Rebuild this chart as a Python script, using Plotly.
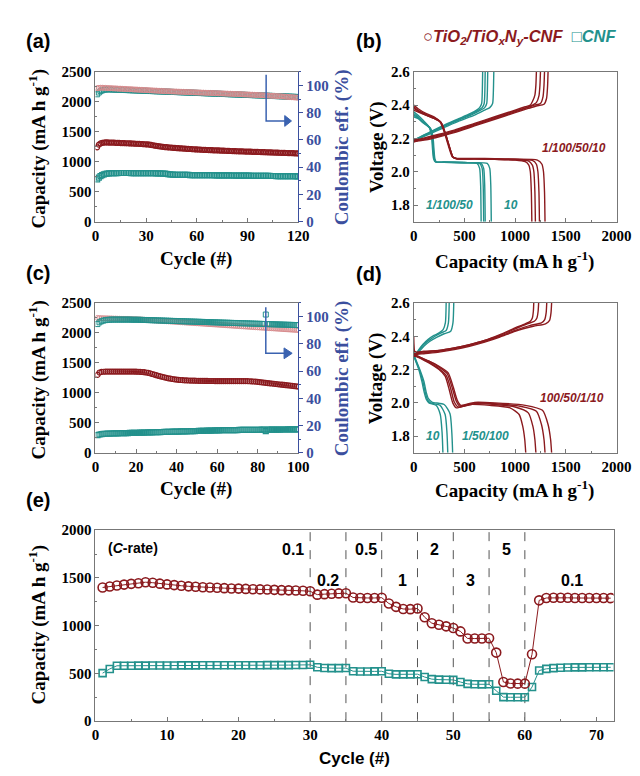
import plotly.graph_objects as go

W, H = 640, 776
RED = '#8b1a1e'
TEAL = '#23918c'
PINK = '#d88c8e'
BLUE = '#3b4f9e'
ARROW = '#3a62b0'
SERIF = 'Times New Roman, Liberation Serif, DejaVu Serif, serif'
SANS = 'Arial, Liberation Sans, sans-serif'

# ---------------- (a) long cycling, 120 cycles ----------------
a_cycles = list(range(1, 121))
a_tio2_cap = [1240, 1285, 1305, 1315, 1320, 1322, 1322, 1320, 1320, 1318,
              1318, 1316, 1315, 1314, 1312, 1312, 1310, 1308, 1308, 1306,
              1305, 1304, 1302, 1300, 1300, 1298, 1296, 1295, 1292, 1290,
              1288, 1285, 1280, 1275, 1270, 1265, 1260, 1256, 1252, 1248,
              1245, 1242, 1240, 1237, 1235, 1232, 1230, 1228, 1226, 1224,
              1222, 1220, 1218, 1216, 1214, 1212, 1210, 1208, 1206, 1205,
              1204, 1202, 1200, 1199, 1198, 1196, 1195, 1194, 1192, 1191,
              1190, 1189, 1188, 1186, 1185, 1184, 1183, 1182, 1180, 1179,
              1178, 1177, 1176, 1175, 1174, 1173, 1172, 1171, 1170, 1169,
              1168, 1167, 1166, 1165, 1164, 1163, 1162, 1161, 1160, 1159,
              1158, 1157, 1156, 1155, 1154, 1153, 1152, 1151, 1150, 1149,
              1148, 1147, 1146, 1145, 1144, 1143, 1142, 1141, 1140, 1138]
a_cnf_cap = [705, 735, 760, 778, 790, 798, 803, 806, 808, 810,
             810, 811, 811, 812, 812, 812, 812, 812, 812, 812,
             811, 811, 811, 810, 810, 810, 810, 810, 810, 809,
             809, 809, 808, 808, 808, 807, 806, 805, 804, 802,
             800, 797, 793, 790, 787, 785, 783, 782, 781, 780,
             780, 780, 779, 779, 779, 778, 778, 778, 777, 777,
             777, 776, 776, 776, 775, 775, 775, 774, 774, 774,
             773, 773, 773, 772, 772, 772, 771, 771, 771, 770,
             770, 770, 769, 769, 769, 768, 768, 768, 767, 767,
             767, 766, 766, 766, 765, 765, 765, 764, 764, 764,
             763, 763, 763, 762, 762, 762, 761, 761, 761, 760,
             760, 760, 759, 759, 759, 758, 758, 758, 757, 757]
a_tio2_ce = [98.0, 98.2, 98.3, 98.3, 98.2, 98.2, 98.1, 98.0, 98.0, 97.9,
             97.8, 97.8, 97.7, 97.6, 97.6, 97.5, 97.4, 97.4, 97.3, 97.2,
             97.2, 97.1, 97.0, 97.0, 96.9, 96.8, 96.8, 96.7, 96.6, 96.6,
             96.5, 96.4, 96.4, 96.3, 96.2, 96.2, 96.1, 96.0, 96.0, 95.9,
             95.8, 95.8, 95.7, 95.7, 95.6, 95.6, 95.5, 95.5, 95.4, 95.4,
             95.3, 95.3, 95.2, 95.2, 95.1, 95.1, 95.0, 95.0, 94.9, 94.9,
             94.8, 94.8, 94.7, 94.7, 94.6, 94.6, 94.5, 94.5, 94.4, 94.4,
             94.3, 94.3, 94.2, 94.2, 94.1, 94.1, 94.0, 94.0, 93.9, 93.9,
             93.8, 93.8, 93.7, 93.7, 93.6, 93.6, 93.5, 93.4, 93.4, 93.3,
             93.3, 93.2, 93.2, 93.1, 93.0, 93.0, 92.9, 92.8, 92.8, 92.7,
             92.6, 92.6, 92.5, 92.4, 92.4, 92.3, 92.2, 92.1, 92.1, 92.0,
             91.9, 91.8, 91.7, 91.6, 91.5, 91.4, 91.3, 91.2, 91.1, 91.0]
a_cnf_ce = [93.5, 94.8, 95.8, 96.4, 96.8, 97.0, 97.1, 97.1, 97.1, 97.0,
            97.0, 96.9, 96.9, 96.8, 96.8, 96.7, 96.7, 96.6, 96.6, 96.5,
            96.5, 96.4, 96.4, 96.3, 96.3, 96.2, 96.2, 96.1, 96.1, 96.0,
            96.0, 95.9, 95.9, 95.8, 95.8, 95.7, 95.7, 95.6, 95.6, 95.5,
            95.5, 95.4, 95.4, 95.3, 95.3, 95.2, 95.2, 95.1, 95.1, 95.0,
            95.0, 94.9, 94.9, 94.8, 94.8, 94.7, 94.7, 94.6, 94.6, 94.5,
            94.5, 94.4, 94.4, 94.3, 94.3, 94.2, 94.2, 94.1, 94.1, 94.0,
            94.0, 93.9, 93.9, 93.8, 93.8, 93.7, 93.7, 93.6, 93.6, 93.5,
            93.5, 93.4, 93.4, 93.3, 93.3, 93.2, 93.2, 93.1, 93.1, 93.0,
            93.0, 92.9, 92.9, 92.8, 92.8, 92.7, 92.7, 92.6, 92.6, 92.5,
            92.5, 92.4, 92.4, 92.3, 92.3, 92.2, 92.2, 92.1, 92.1, 92.0,
            92.0, 91.9, 91.9, 91.8, 91.8, 91.7, 91.7, 91.6, 91.6, 91.5]

# ---------------- (c) long cycling, 100 cycles ----------------
c_cycles = list(range(1, 101))
c_tio2_cap = [1300, 1340, 1350, 1352, 1354, 1355, 1355, 1356, 1356, 1356,
              1356, 1356, 1356, 1355, 1355, 1355, 1355, 1354, 1354, 1353,
              1352, 1350, 1348, 1345, 1340, 1333, 1325, 1315, 1305, 1295,
              1285, 1275, 1266, 1258, 1250, 1243, 1237, 1231, 1226, 1222,
              1218, 1215, 1212, 1210, 1208, 1206, 1205, 1204, 1203, 1202,
              1201, 1200, 1200, 1199, 1199, 1198, 1198, 1198, 1197, 1197,
              1197, 1197, 1197, 1197, 1197, 1197, 1197, 1197, 1197, 1197,
              1197, 1197, 1196, 1196, 1195, 1194, 1192, 1190, 1187, 1184,
              1180, 1176, 1172, 1168, 1164, 1160, 1156, 1152, 1148, 1144,
              1140, 1136, 1132, 1128, 1124, 1120, 1116, 1112, 1108, 1104]
c_cnf_cap = [295, 305, 312, 316, 318, 320, 321, 322, 323, 324,
             325, 326, 327, 328, 329, 330, 331, 332, 333, 334,
             335, 336, 337, 338, 339, 340, 341, 342, 343, 344,
             345, 346, 347, 348, 349, 350, 351, 352, 353, 354,
             355, 356, 357, 358, 359, 360, 361, 362, 363, 364,
             365, 366, 367, 368, 369, 370, 371, 372, 373, 374,
             375, 376, 377, 377, 378, 378, 379, 379, 380, 380,
             381, 381, 382, 382, 383, 383, 384, 384, 385, 385,
             385, 386, 386, 362, 386, 387, 387, 387, 388, 388,
             388, 389, 389, 389, 390, 390, 390, 391, 391, 391]
c_tio2_ce = [99.0, 98.9, 98.8, 98.8, 98.7, 98.7, 98.6, 98.6, 98.5, 98.5,
             98.4, 98.4, 98.3, 98.3, 98.2, 98.2, 98.1, 98.1, 98.0, 98.0,
             97.9, 97.9, 97.8, 97.7, 97.6, 97.5, 97.4, 97.3, 97.2, 97.1,
             97.0, 96.9, 96.8, 96.7, 96.6, 96.5, 96.4, 96.3, 96.2, 96.1,
             96.0, 95.9, 95.8, 95.7, 95.6, 95.5, 95.4, 95.3, 95.2, 95.1,
             95.0, 94.9, 94.8, 94.7, 94.6, 94.5, 94.4, 94.3, 94.2, 94.1,
             94.0, 93.9, 93.8, 93.7, 93.6, 93.5, 93.4, 93.3, 93.2, 93.1,
             93.0, 92.9, 92.8, 92.7, 92.6, 92.5, 92.4, 92.3, 92.2, 92.1,
             92.0, 91.9, 91.8, 91.7, 91.6, 91.5, 91.4, 91.3, 91.2, 91.1,
             91.0, 90.9, 90.8, 90.7, 90.6, 90.5, 90.4, 90.3, 90.2, 90.1]
c_cnf_ce = [94.5, 95.8, 96.6, 97.1, 97.4, 97.6, 97.7, 97.8, 97.8, 97.8,
            97.8, 97.8, 97.8, 97.8, 97.8, 97.8, 97.8, 97.7, 97.7, 97.7,
            97.7, 97.6, 97.6, 97.5, 97.5, 97.4, 97.4, 97.3, 97.3, 97.2,
            97.2, 97.1, 97.1, 97.0, 97.0, 96.9, 96.9, 96.8, 96.8, 96.7,
            96.7, 96.6, 96.6, 96.5, 96.5, 96.4, 96.4, 96.3, 96.3, 96.2,
            96.2, 96.1, 96.1, 96.0, 96.0, 95.9, 95.9, 95.8, 95.8, 95.7,
            95.7, 95.6, 95.6, 95.5, 95.5, 95.4, 95.4, 95.3, 95.3, 95.2,
            95.2, 95.1, 95.1, 95.0, 95.0, 94.9, 94.9, 94.8, 94.8, 94.7,
            94.7, 94.6, 94.6, 101.5, 94.5, 94.4, 94.4, 94.3, 94.3, 94.2,
            94.2, 94.1, 94.1, 94.0, 94.0, 93.9, 93.9, 93.8, 93.8, 93.7]

# ---------------- (b) voltage profiles (capacity, voltage) ----------------
b_red_dis = [
    ([0, 40, 120, 200, 260, 300, 340, 380, 420, 600, 800, 1000, 1100, 1135, 1150, 1160, 1165],
     [2.40, 2.38, 2.35, 2.33, 2.30, 2.24, 2.16, 2.09, 2.078, 2.076, 2.074, 2.07, 2.06, 2.04, 2.00, 1.88, 1.70]),
    ([0, 40, 120, 200, 265, 305, 345, 385, 425, 600, 800, 1000, 1130, 1170, 1185, 1195, 1200],
     [2.39, 2.37, 2.345, 2.325, 2.30, 2.24, 2.16, 2.09, 2.078, 2.077, 2.075, 2.072, 2.065, 2.04, 2.00, 1.88, 1.70]),
    ([0, 40, 120, 200, 270, 310, 350, 390, 430, 600, 800, 1000, 1170, 1210, 1225, 1235, 1240],
     [2.38, 2.365, 2.34, 2.32, 2.295, 2.235, 2.155, 2.085, 2.078, 2.078, 2.076, 2.074, 2.068, 2.045, 2.00, 1.88, 1.70]),
    ([0, 40, 120, 200, 270, 310, 350, 390, 430, 600, 800, 1000, 1220, 1265, 1280, 1290, 1295],
     [2.37, 2.36, 2.34, 2.32, 2.295, 2.235, 2.155, 2.085, 2.08, 2.08, 2.078, 2.076, 2.07, 2.045, 2.00, 1.88, 1.70]),
]
b_red_chg = [
    ([0, 50, 150, 250, 400, 600, 800, 1000, 1100, 1150, 1170, 1195, 1205, 1210],
     [2.19, 2.195, 2.21, 2.225, 2.25, 2.29, 2.33, 2.37, 2.39, 2.40, 2.42, 2.46, 2.52, 2.60]),
    ([0, 50, 150, 250, 400, 600, 800, 1000, 1110, 1170, 1210, 1235, 1245, 1250],
     [2.185, 2.19, 2.205, 2.22, 2.245, 2.285, 2.325, 2.365, 2.385, 2.40, 2.415, 2.455, 2.52, 2.60]),
    ([0, 50, 150, 250, 400, 600, 800, 1000, 1120, 1190, 1250, 1275, 1285, 1290],
     [2.18, 2.188, 2.20, 2.215, 2.24, 2.28, 2.32, 2.36, 2.385, 2.40, 2.41, 2.45, 2.52, 2.60]),
    ([0, 50, 150, 250, 400, 600, 800, 1000, 1130, 1210, 1285, 1310, 1320, 1325],
     [2.18, 2.185, 2.195, 2.21, 2.235, 2.275, 2.315, 2.355, 2.38, 2.395, 2.405, 2.44, 2.51, 2.60]),
]
b_teal_dis = [
    ([0, 40, 90, 150, 175, 185, 195, 210, 300, 500, 625, 650, 660, 665],
     [2.36, 2.34, 2.31, 2.27, 2.22, 2.14, 2.08, 2.06, 2.058, 2.055, 2.05, 2.02, 1.92, 1.70]),
    ([0, 40, 90, 155, 180, 190, 200, 215, 300, 500, 650, 675, 685, 690],
     [2.35, 2.33, 2.30, 2.265, 2.215, 2.135, 2.08, 2.06, 2.058, 2.055, 2.05, 2.02, 1.92, 1.70]),
    ([0, 40, 90, 160, 185, 195, 205, 220, 300, 500, 665, 690, 700, 705],
     [2.34, 2.325, 2.30, 2.265, 2.215, 2.135, 2.075, 2.058, 2.056, 2.054, 2.05, 2.02, 1.92, 1.70]),
    ([0, 40, 90, 165, 190, 200, 210, 225, 300, 500, 725, 750, 760, 765],
     [2.33, 2.32, 2.295, 2.26, 2.21, 2.13, 2.075, 2.058, 2.056, 2.054, 2.05, 2.02, 1.92, 1.70]),
]
b_teal_chg = [
    ([0, 50, 150, 300, 450, 560, 620, 650, 670, 676, 680],
     [2.19, 2.205, 2.235, 2.28, 2.32, 2.35, 2.37, 2.385, 2.41, 2.47, 2.60]),
    ([0, 50, 150, 300, 450, 570, 640, 675, 695, 701, 705],
     [2.19, 2.203, 2.232, 2.276, 2.316, 2.348, 2.37, 2.385, 2.41, 2.47, 2.60]),
    ([0, 50, 150, 300, 450, 580, 660, 700, 720, 726, 730],
     [2.19, 2.20, 2.23, 2.272, 2.312, 2.345, 2.37, 2.385, 2.41, 2.47, 2.60]),
    ([0, 50, 150, 300, 450, 600, 700, 750, 778, 785, 790],
     [2.19, 2.20, 2.225, 2.265, 2.305, 2.34, 2.37, 2.385, 2.41, 2.47, 2.60]),
]

# ---------------- (d) voltage profiles ----------------
d_red_dis = [
    ([0, 15, 60, 150, 250, 310, 350, 385, 420, 550, 750, 950, 1040, 1075, 1095, 1105],
     [2.30, 2.285, 2.27, 2.24, 2.20, 2.16, 2.08, 2.00, 1.97, 1.99, 1.985, 1.97, 1.93, 1.86, 1.78, 1.70]),
    ([0, 15, 60, 150, 250, 320, 365, 400, 440, 600, 800, 1000, 1130, 1175, 1195, 1205],
     [2.40, 2.29, 2.275, 2.245, 2.205, 2.165, 2.085, 2.005, 1.975, 1.995, 1.99, 1.975, 1.94, 1.86, 1.78, 1.70]),
    ([0, 15, 60, 150, 250, 330, 380, 420, 455, 600, 800, 1050, 1210, 1260, 1285, 1295],
     [2.29, 2.285, 2.275, 2.25, 2.215, 2.175, 2.09, 2.01, 1.98, 2.00, 1.995, 1.98, 1.95, 1.87, 1.78, 1.70]),
    ([0, 15, 60, 150, 250, 340, 390, 430, 465, 600, 800, 1100, 1270, 1325, 1350, 1360],
     [2.28, 2.28, 2.27, 2.25, 2.22, 2.18, 2.095, 2.015, 1.985, 2.003, 2.0, 1.985, 1.955, 1.87, 1.78, 1.70]),
]
d_red_chg = [
    ([0, 30, 100, 250, 400, 550, 700, 850, 1000, 1100, 1150, 1170, 1180, 1184],
     [2.31, 2.305, 2.31, 2.315, 2.33, 2.35, 2.375, 2.41, 2.45, 2.475, 2.49, 2.51, 2.55, 2.60]),
    ([0, 30, 100, 250, 400, 550, 700, 850, 1000, 1120, 1190, 1215, 1227, 1232],
     [2.30, 2.30, 2.305, 2.315, 2.33, 2.35, 2.375, 2.405, 2.445, 2.475, 2.49, 2.51, 2.55, 2.60]),
    ([0, 30, 100, 250, 400, 550, 700, 850, 1000, 1150, 1260, 1292, 1306, 1312],
     [2.29, 2.295, 2.30, 2.31, 2.325, 2.345, 2.37, 2.40, 2.435, 2.465, 2.48, 2.50, 2.54, 2.60]),
    ([0, 30, 100, 250, 400, 550, 700, 850, 1000, 1180, 1300, 1340, 1354, 1360],
     [2.28, 2.29, 2.295, 2.305, 2.32, 2.34, 2.365, 2.395, 2.43, 2.46, 2.475, 2.495, 2.54, 2.60]),
]
d_teal_dis = [
    ([0, 20, 50, 80, 105, 125, 150, 220, 262, 280, 288],
     [2.28, 2.25, 2.20, 2.13, 2.06, 2.02, 2.0, 1.985, 1.93, 1.82, 1.70]),
    ([0, 20, 55, 90, 115, 135, 165, 260, 310, 328, 336],
     [2.29, 2.255, 2.20, 2.13, 2.06, 2.02, 2.0, 1.985, 1.93, 1.82, 1.70]),
    ([0, 20, 60, 100, 125, 145, 180, 300, 358, 376, 384],
     [2.30, 2.26, 2.20, 2.13, 2.06, 2.025, 2.005, 1.99, 1.935, 1.82, 1.70]),
]
d_teal_chg = [
    ([0, 40, 90, 140, 200, 250, 290, 312, 320],
     [2.27, 2.31, 2.35, 2.38, 2.405, 2.42, 2.44, 2.48, 2.60]),
    ([0, 40, 90, 150, 210, 270, 320, 342, 350],
     [2.275, 2.305, 2.345, 2.375, 2.40, 2.42, 2.435, 2.48, 2.60]),
    ([0, 40, 100, 160, 230, 300, 365, 387, 395],
     [2.28, 2.30, 2.34, 2.37, 2.395, 2.415, 2.43, 2.48, 2.60]),
]

# ---------------- (e) rate capability ----------------
e_cycles = list(range(1, 73))
e_tio2 = [1400, 1410, 1420, 1430, 1438, 1445, 1455, 1450, 1440, 1432,
          1425, 1418, 1412, 1407, 1402, 1400, 1397, 1393, 1390, 1388,
          1385, 1382, 1380, 1378, 1375, 1372, 1370, 1368, 1365, 1360,
          1325, 1330, 1335, 1338, 1340, 1295, 1290, 1290, 1290, 1293,
          1232, 1197, 1175, 1173, 1180, 1088, 1026, 1010, 993, 975,
          940, 866, 865, 865, 868, 718, 410, 395, 393, 393,
          700, 1265, 1290, 1292, 1292, 1292, 1290, 1290, 1290, 1290, 1290, 1288]
e_cnf = [503, 547, 580, 580, 581, 582, 582, 583, 583, 583,
         583, 584, 584, 584, 585, 585, 585, 585, 585, 586,
         586, 586, 586, 587, 587, 587, 587, 588, 588, 590,
         564, 556, 555, 555, 556, 523, 520, 520, 521, 523,
         496, 490, 490, 490, 492, 462, 440, 435, 433, 432,
         410, 390, 386, 385, 386, 318, 252, 250, 250, 251,
         357, 530, 548, 555, 560, 562, 563, 563, 564, 564, 564, 564]
rate_boundaries = [30, 35, 40, 45, 50, 55, 60]
rate_labels = ['0.1', '0.2', '0.5', '1', '2', '3', '5', '0.1']
rate_label_x = [27.6, 32.5, 37.8, 42.9, 47.4, 52.4, 57.4, 66.6]
rate_label_y = [1800, 1470, 1800, 1470, 1800, 1470, 1800, 1470]


def xd(a, b):
    return [a / W, b / W]


def yd(top, bottom):
    return [1 - bottom / H, 1 - top / H]


tickfont = dict(family=SERIF, size=15, color='black', weight='bold')
bluefont = dict(family=SERIF, size=15, color=BLUE, weight='bold')
LINE = '#777777'

fig = go.Figure()

# (a)
fig.add_trace(go.Scatter(x=a_cycles, y=a_cnf_cap, mode='markers', xaxis='x', yaxis='y',
                         marker=dict(symbol='square-open', size=5, color=TEAL, line=dict(width=1.2))))
fig.add_trace(go.Scatter(x=a_cycles, y=a_tio2_cap, mode='markers', xaxis='x', yaxis='y',
                         marker=dict(symbol='circle-open', size=5, color=RED, line=dict(width=1.2))))
fig.add_trace(go.Scatter(x=a_cycles, y=a_cnf_ce, mode='markers', xaxis='x', yaxis='y2',
                         marker=dict(symbol='square-open', size=5, color=TEAL, line=dict(width=1))))
fig.add_trace(go.Scatter(x=a_cycles, y=a_tio2_ce, mode='markers', xaxis='x', yaxis='y2',
                         marker=dict(symbol='circle-open', size=5, color=PINK, line=dict(width=1))))

# (c)
fig.add_trace(go.Scatter(x=c_cycles, y=c_cnf_cap, mode='markers', xaxis='x4', yaxis='y4',
                         marker=dict(symbol='square-open', size=5, color=TEAL, line=dict(width=1.2))))
fig.add_trace(go.Scatter(x=c_cycles, y=c_tio2_cap, mode='markers', xaxis='x4', yaxis='y4',
                         marker=dict(symbol='circle-open', size=5, color=RED, line=dict(width=1.2))))
fig.add_trace(go.Scatter(x=c_cycles, y=c_tio2_ce, mode='markers', xaxis='x4', yaxis='y5',
                         marker=dict(symbol='circle-open', size=5, color=PINK, line=dict(width=1))))
fig.add_trace(go.Scatter(x=c_cycles, y=c_cnf_ce, mode='markers', xaxis='x4', yaxis='y5',
                         marker=dict(symbol='square-open', size=5, color=TEAL, line=dict(width=1))))

# (b), (d) profiles
for curves, color, xa, ya in [(b_teal_dis, TEAL, 'x3', 'y3'), (b_teal_chg, TEAL, 'x3', 'y3'),
                              (b_red_dis, RED, 'x3', 'y3'), (b_red_chg, RED, 'x3', 'y3'),
                              (d_teal_dis, TEAL, 'x6', 'y6'), (d_teal_chg, TEAL, 'x6', 'y6'),
                              (d_red_dis, RED, 'x6', 'y6'), (d_red_chg, RED, 'x6', 'y6')]:
    for cap, volt in curves:
        fig.add_trace(go.Scatter(x=cap, y=volt, mode='lines', xaxis=xa, yaxis=ya,
                                 line=dict(color=color, width=1.4, shape='spline', smoothing=0.6)))

# (e)
fig.add_trace(go.Scatter(x=e_cycles, y=e_cnf, mode='lines+markers', xaxis='x7', yaxis='y7',
                         line=dict(color=TEAL, width=1),
                         marker=dict(symbol='square-open', size=7, color=TEAL, line=dict(width=1.6))))
fig.add_trace(go.Scatter(x=e_cycles, y=e_tio2, mode='lines+markers', xaxis='x7', yaxis='y7',
                         line=dict(color=RED, width=1),
                         marker=dict(symbol='circle-open', size=9, color=RED, line=dict(width=1.6))))


def xaxis(domain, anchor, rng, dtick, minor):
    return dict(domain=domain, anchor=anchor, range=rng, dtick=dtick, tick0=0,
                showline=True, linecolor=LINE, linewidth=1, mirror=True,
                ticks='inside', ticklen=4, tickcolor=LINE, tickfont=tickfont,
                minor=dict(ticks='inside', ticklen=2, dtick=minor, tickcolor=LINE),
                showgrid=False, zeroline=False)


def yaxis(domain, anchor, rng, dtick, minor, mirror=True, fmt=None):
    d = dict(domain=domain, anchor=anchor, range=rng, dtick=dtick, tick0=0,
             showline=True, linecolor=LINE, linewidth=1, mirror=mirror,
             ticks='inside', ticklen=4, tickcolor=LINE, tickfont=tickfont,
             minor=dict(ticks='inside', ticklen=2, dtick=minor, tickcolor=LINE),
             showgrid=False, zeroline=False)
    if fmt:
        d['tickformat'] = fmt
    return d


def y2axis(over, anchor):
    return dict(overlaying=over, anchor=anchor, side='right', range=[0, 110], dtick=20, tick0=0,
                showline=True, linecolor=BLUE, linewidth=1, ticks='outside', ticklen=4,
                tickcolor=BLUE, tickfont=bluefont,
                minor=dict(ticks='outside', ticklen=2, dtick=10, tickcolor=BLUE),
                showgrid=False, zeroline=False)


LX = xd(86, 295)
RX = xd(414, 623)
TOP = yd(57, 210)
MID = yd(293, 446)
BOT = yd(525, 720)

fig.update_layout(
    width=W, height=H, margin=dict(l=0, r=0, t=0, b=0),
    paper_bgcolor='white', plot_bgcolor='white', showlegend=False,
    xaxis=xaxis(LX, 'y', [0, 120], 30, 15),
    yaxis=yaxis(TOP, 'x', [0, 2500], 500, 250, mirror=False),
    yaxis2=y2axis('y', 'x'),
    xaxis3=xaxis(RX, 'y3', [0, 2000], 500, 250),
    yaxis3=yaxis(TOP, 'x3', [1.7, 2.6], 0.2, 0.1, fmt='.1f'),
    xaxis4=xaxis(LX, 'y4', [0, 100], 20, 10),
    yaxis4=yaxis(MID, 'x4', [0, 2500], 500, 250, mirror=False),
    yaxis5=y2axis('y4', 'x4'),
    xaxis6=xaxis(RX, 'y6', [0, 2000], 500, 250),
    yaxis6=yaxis(MID, 'x6', [1.7, 2.6], 0.2, 0.1, fmt='.1f'),
    xaxis7=xaxis(xd(86, 620), 'y7', [0, 72.4], 10, 5),
    yaxis7=yaxis(BOT, 'x7', [0, 2000], 500, 250),
)

ann = []


def pa(x, y, text, font, angle=0, xanchor='center'):
    ann.append(dict(x=x / W, y=1 - y / H, xref='paper', yref='paper', text=text, showarrow=False,
                    font=font, textangle=angle, xanchor=xanchor, yanchor='middle'))


titlefont = dict(family=SERIF, size=19, color='black', weight='bold')
bluetitle = dict(family=SERIF, size=19, color=BLUE, weight='bold')
panelfont = dict(family=SANS, size=20, color='black', weight='bold')
cap_title = 'Capacity (mA h g<sup>-1</sup>)'

# panel letters
pa(12, 26, '(a)', panelfont, xanchor='left')
pa(352, 26, '(b)', panelfont, xanchor='left')
pa(12, 262, '(c)', panelfont, xanchor='left')
pa(352, 263, '(d)', panelfont, xanchor='left')
pa(12, 494, '(e)', panelfont, xanchor='left')

# legend
pa(421, 21, '<span style="color:%s">○<i>TiO<sub>2</sub>/TiO<sub>x</sub>N<sub>y</sub>-CNF</i></span>'
            '  <span style="color:%s">□<i>CNF</i></span>' % (RED, TEAL),
   dict(family=SANS, size=16.5, color=RED, weight='bold'), xanchor='left')

# axis titles
pa(26, 136, cap_title, titlefont, angle=-90)
pa(26, 372, cap_title, titlefont, angle=-90)
pa(26, 622, cap_title, titlefont, angle=-90)
pa(340, 134, 'Coulombic eff. (%)', bluetitle, angle=-90)
pa(340, 370, 'Coulombic eff. (%)', bluetitle, angle=-90)
pa(376, 134, 'Voltage (V)', titlefont, angle=-90)
pa(376, 370, 'Voltage (V)', titlefont, angle=-90)
pa(190, 248, 'Cycle (#)', titlefont)
pa(190, 483, 'Cycle (#)', titlefont)
pa(518, 250, cap_title, titlefont)
pa(518, 483, cap_title, titlefont)
pa(353, 758, 'Cycle (#)', dict(family=SANS, size=17, color='black', weight='bold'))


def da(x, y, text, font, xr, yr):
    ann.append(dict(x=x, y=y, xref=xr, yref=yr, text=text, showarrow=False, font=font))


lab = lambda c: dict(family=SANS, size=12, color=c, weight='bold')
da(1580, 2.14, '<i>1/100/50/10</i>', lab(RED), 'x3', 'y3')
da(350, 1.80, '<i>1/100/50</i>', lab(TEAL), 'x3', 'y3')
da(955, 1.80, '<i>10</i>', lab(TEAL), 'x3', 'y3')
da(1560, 2.03, '<i>100/50/1/10</i>', lab(RED), 'x6', 'y6')
da(190, 1.80, '<i>10</i>', lab(TEAL), 'x6', 'y6')
da(710, 1.80, '<i>1/50/100</i>', lab(TEAL), 'x6', 'y6')

ratefont = dict(family=SANS, size=16, color='black', weight='bold')
da(5.2, 1815, '(<i>C</i>-rate)', dict(family=SANS, size=14, color='black', weight='bold'), 'x7', 'y7')
for t, x, y in zip(rate_labels, rate_label_x, rate_label_y):
    da(x, y, t, ratefont, 'x7', 'y7')

# arrows in (a) and (c): elbow line plus a triangular head
shapes = []
for xr, yr, x0, ytop, ybend, xend, dy in [('x', 'y', 101, 2450, 1680, 116, 90),
                                         ('x4', 'y4', 84, 2430, 1660, 97, 90)]:
    shapes.append(dict(type='path', xref=xr, yref=yr,
                       path='M %g,%g L %g,%g L %g,%g' % (x0, ytop, x0, ybend, xend - 2.5, ybend),
                       line=dict(color=ARROW, width=1.5)))
    shapes.append(dict(type='path', xref=xr, yref=yr,
                       path='M %g,%g L %g,%g L %g,%g Z' % (xend - 4, ybend + dy, xend, ybend,
                                                          xend - 4, ybend - dy),
                       fillcolor=ARROW, line=dict(color=ARROW, width=1)))

for b in rate_boundaries:
    shapes.append(dict(type='line', xref='x7', yref='y7 domain', x0=b, x1=b, y0=0, y1=1,
                       line=dict(color='#555555', width=1, dash='dash'), layer='below'))

fig.update_layout(annotations=ann, shapes=shapes)
fig.write_html('out.html')
